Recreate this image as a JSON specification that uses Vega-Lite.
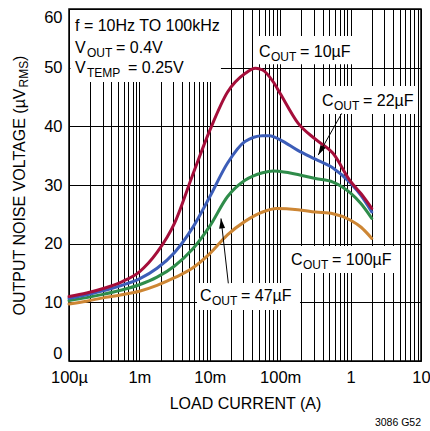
{
  "$schema": "https://vega.github.io/schema/vega-lite/v6.json",
  "width": 352,
  "height": 352,
  "autosize": {"type": "none"},
  "padding": {"left": 69, "top": 9, "right": 9, "bottom": 70},
  "background": "#ffffff",
  "config": {
    "view": {"stroke": "#000000", "strokeWidth": 1.5},
    "font": "Liberation Sans, Arial, sans-serif",
    "axis": {"labelColor": "#000000", "titleColor": "#000000", "gridColor": "#000000", "gridOpacity": 1, "gridWidth": 1, "labelFont": "Liberation Sans, Arial, sans-serif", "titleFont": "Liberation Sans, Arial, sans-serif"}
  },
  "title": {"text": "3086 G52", "orient": "bottom", "anchor": "end", "frame": "group", "fontSize": 10.5, "fontWeight": "normal", "font": "Liberation Sans, Arial, sans-serif", "color": "#000000", "offset": 6},
  "datasets": {
    "curves": [
      {"s": "100µF", "x": 0.0001, "y": 9.7}, {"s": "100µF", "x": 0.000178, "y": 10.2}, {"s": "100µF", "x": 0.000316, "y": 10.8}, {"s": "100µF", "x": 0.000562, "y": 11.3}, {"s": "100µF", "x": 0.001, "y": 11.9}, {"s": "100µF", "x": 0.00178, "y": 12.9}, {"s": "100µF", "x": 0.00316, "y": 14.2}, {"s": "100µF", "x": 0.00562, "y": 15.8}, {"s": "100µF", "x": 0.01, "y": 18.3}, {"s": "100µF", "x": 0.0178, "y": 21.5}, {"s": "100µF", "x": 0.0316, "y": 23.8}, {"s": "100µF", "x": 0.0562, "y": 25.4}, {"s": "100µF", "x": 0.0891, "y": 26.0}, {"s": "100µF", "x": 0.178, "y": 25.8}, {"s": "100µF", "x": 0.316, "y": 25.4}, {"s": "100µF", "x": 0.562, "y": 25.1}, {"s": "100µF", "x": 1.0, "y": 24.0}, {"s": "100µF", "x": 1.41, "y": 22.8}, {"s": "100µF", "x": 2.0, "y": 20.9},
      {"s": "47µF", "x": 0.0001, "y": 10.3}, {"s": "47µF", "x": 0.000178, "y": 10.8}, {"s": "47µF", "x": 0.000316, "y": 11.4}, {"s": "47µF", "x": 0.000562, "y": 12.1}, {"s": "47µF", "x": 0.001, "y": 13.0}, {"s": "47µF", "x": 0.00178, "y": 14.3}, {"s": "47µF", "x": 0.00316, "y": 16.2}, {"s": "47µF", "x": 0.00562, "y": 19.0}, {"s": "47µF", "x": 0.01, "y": 23.0}, {"s": "47µF", "x": 0.0178, "y": 28.0}, {"s": "47µF", "x": 0.0316, "y": 30.8}, {"s": "47µF", "x": 0.0562, "y": 32.1}, {"s": "47µF", "x": 0.0794, "y": 32.4}, {"s": "47µF", "x": 0.1, "y": 32.3}, {"s": "47µF", "x": 0.178, "y": 31.8}, {"s": "47µF", "x": 0.316, "y": 31.1}, {"s": "47µF", "x": 0.562, "y": 30.5}, {"s": "47µF", "x": 1.0, "y": 28.6}, {"s": "47µF", "x": 1.41, "y": 26.8}, {"s": "47µF", "x": 2.0, "y": 24.3},
      {"s": "22µF", "x": 0.0001, "y": 10.7}, {"s": "22µF", "x": 0.000178, "y": 11.3}, {"s": "22µF", "x": 0.000316, "y": 12.0}, {"s": "22µF", "x": 0.000562, "y": 12.9}, {"s": "22µF", "x": 0.001, "y": 14.0}, {"s": "22µF", "x": 0.00178, "y": 15.8}, {"s": "22µF", "x": 0.00316, "y": 18.5}, {"s": "22µF", "x": 0.00562, "y": 22.6}, {"s": "22µF", "x": 0.01, "y": 28.0}, {"s": "22µF", "x": 0.0178, "y": 33.7}, {"s": "22µF", "x": 0.0316, "y": 37.4}, {"s": "22µF", "x": 0.0562, "y": 38.4}, {"s": "22µF", "x": 0.0708, "y": 38.4}, {"s": "22µF", "x": 0.1, "y": 37.7}, {"s": "22µF", "x": 0.178, "y": 35.9}, {"s": "22µF", "x": 0.316, "y": 34.4}, {"s": "22µF", "x": 0.562, "y": 32.9}, {"s": "22µF", "x": 1.0, "y": 30.3}, {"s": "22µF", "x": 1.41, "y": 28.2}, {"s": "22µF", "x": 2.0, "y": 25.4},
      {"s": "10µF", "x": 0.0001, "y": 11.0}, {"s": "10µF", "x": 0.000178, "y": 11.6}, {"s": "10µF", "x": 0.000316, "y": 12.4}, {"s": "10µF", "x": 0.000562, "y": 13.5}, {"s": "10µF", "x": 0.001, "y": 15.2}, {"s": "10µF", "x": 0.00178, "y": 18.5}, {"s": "10µF", "x": 0.00316, "y": 23.5}, {"s": "10µF", "x": 0.00562, "y": 31.5}, {"s": "10µF", "x": 0.01, "y": 39.3}, {"s": "10µF", "x": 0.0178, "y": 45.8}, {"s": "10µF", "x": 0.0316, "y": 49.0}, {"s": "10µF", "x": 0.0447, "y": 49.9}, {"s": "10µF", "x": 0.0562, "y": 49.6}, {"s": "10µF", "x": 0.0794, "y": 47.6}, {"s": "10µF", "x": 0.1, "y": 45.6}, {"s": "10µF", "x": 0.178, "y": 40.6}, {"s": "10µF", "x": 0.316, "y": 37.8}, {"s": "10µF", "x": 0.562, "y": 35.4}, {"s": "10µF", "x": 1.0, "y": 30.6}, {"s": "10µF", "x": 1.41, "y": 28.5}, {"s": "10µF", "x": 2.0, "y": 26.0}
    ],
    "boxes": [
      {"x": 0.000105, "x2": 0.0144, "y": 47.55, "y2": 59.85},
      {"x": 0.0439, "x2": 1.193, "y": 50.6, "y2": 55.4},
      {"x": 0.333, "x2": 9.06, "y": 42.1, "y2": 46.87},
      {"x": 0.125, "x2": 4.56, "y": 15.0, "y2": 19.6},
      {"x": 0.00658, "x2": 0.191, "y": 8.7, "y2": 13.3}
    ],
    "arrows": [
      {"id": "22", "x": 0.747, "y": 42.2, "x2": 0.347, "y2": 35.1},
      {"id": "47", "x": 0.01833, "y": 13.24, "x2": 0.01442, "y2": 24.3}
    ],
    "maintext": [
      {"t": "f = 10Hz TO 100kHz", "x": 0.0001217, "y": 56.3},
      {"t": "V", "x": 0.0001217, "y": 52.45},
      {"t": "= 0.4V", "x": 0.0004652, "y": 52.45},
      {"t": "V", "x": 0.0001217, "y": 49.04},
      {"t": "= 0.25V", "x": 0.0006887, "y": 49.04},
      {"t": "C", "x": 0.05, "y": 51.87},
      {"t": "= 10µF", "x": 0.191, "y": 51.87},
      {"t": "C", "x": 0.393, "y": 43.46},
      {"t": "= 22µF", "x": 1.5, "y": 43.46},
      {"t": "C", "x": 0.1423, "y": 16.36},
      {"t": "= 100µF", "x": 0.545, "y": 16.36},
      {"t": "C", "x": 0.00726, "y": 10.23},
      {"t": "= 47µF", "x": 0.0277, "y": 10.23}
    ],
    "subtext": [
      {"t": "OUT", "x": 0.0001802, "y": 51.76},
      {"t": "TEMP", "x": 0.0001802, "y": 48.36},
      {"t": "OUT", "x": 0.074, "y": 51.18},
      {"t": "OUT", "x": 0.581, "y": 42.78},
      {"t": "OUT", "x": 0.211, "y": 15.68},
      {"t": "OUT", "x": 0.01074, "y": 9.545}
    ]
  },
  "layer": [
    {
      "data": {"name": "boxes"},
      "mark": {"type": "rect", "fill": "#ffffff", "strokeWidth": 0},
      "encoding": {
        "x": {"field": "x", "type": "quantitative", "scale": {"type": "log", "domain": [0.0001, 10], "nice": false},
          "axis": {"orient": "bottom", "values": [0.0001, 0.0002, 0.0003, 0.0004, 0.0005, 0.0006, 0.0007, 0.0008, 0.0009, 0.001, 0.002, 0.003, 0.004, 0.005, 0.006, 0.007, 0.008, 0.009, 0.01, 0.02, 0.03, 0.04, 0.05, 0.06, 0.07, 0.08, 0.09, 0.1, 0.2, 0.3, 0.4, 0.5, 0.6, 0.7, 0.8, 0.9, 1, 2, 3, 4, 5, 6, 7, 8, 9, 10],
            "labelExpr": "datum.value == 0.0001 ? '100µ' : datum.value == 0.001 ? '1m' : datum.value == 0.01 ? '10m' : datum.value == 0.1 ? '100m' : datum.value == 1 ? '1' : datum.value == 10 ? '10' : ''",
            "grid": true, "ticks": false, "domain": false, "labelFontSize": 16.5, "labelPadding": 8, "labelOverlap": false, "labelFlush": false,
            "title": "LOAD CURRENT (A)", "titleFontSize": 16, "titleFontWeight": "normal", "titlePadding": 10}},
        "x2": {"field": "x2"},
        "y": {"field": "y", "type": "quantitative", "scale": {"domain": [0, 60], "nice": false},
          "axis": {"orient": "left", "values": [0, 10, 20, 30, 40, 50, 60], "grid": true, "ticks": false, "domain": false, "labelFontSize": 16.5, "labelPadding": 7, "labelFlush": true,
            "title": "OUTPUT NOISE VOLTAGE (µV", "titleFontSize": 16, "titleFontWeight": "normal", "titleAngle": 270, "titleAlign": "left", "titleBaseline": "alphabetic", "titleX": -45, "titleY": 306}},
        "y2": {"field": "y2"}
      }
    },
    {
      "data": {"name": "curves"},
      "mark": {"type": "line", "strokeWidth": 3, "interpolate": "monotone", "strokeCap": "round"},
      "encoding": {
        "x": {"field": "x", "type": "quantitative", "scale": {"type": "log", "domain": [0.0001, 10], "nice": false},
          "axis": {"orient": "top", "grid": false, "labels": false, "ticks": false, "domain": false, "title": ")", "titleFontSize": 16, "titleFontWeight": "normal", "titleAngle": 270, "titleAlign": "left", "titleBaseline": "alphabetic", "titleX": -45, "titleY": 51.6}},
        "y": {"field": "y", "type": "quantitative", "scale": {"domain": [0, 60], "nice": false},
          "axis": {"orient": "left", "grid": false, "labels": false, "ticks": false, "domain": false, "title": "RMS", "titleFontSize": 12, "titleFontWeight": "normal", "titleAngle": 270, "titleAlign": "left", "titleBaseline": "alphabetic", "titleX": -42, "titleY": 78}},
        "color": {"field": "s", "type": "nominal", "scale": {"domain": ["10µF", "22µF", "47µF", "100µF"], "range": ["#A50E3A", "#3C5DB8", "#2F8C4A", "#CD8634"]}, "legend": null}
      }
    },
    {
      "data": {"name": "arrows"},
      "mark": {"type": "rule", "color": "#000000", "strokeWidth": 1},
      "encoding": {
        "x": {"field": "x", "type": "quantitative", "scale": {"type": "log", "domain": [0.0001, 10], "nice": false}, "axis": null},
        "x2": {"field": "x2"},
        "y": {"field": "y", "type": "quantitative", "scale": {"domain": [0, 60], "nice": false}, "axis": null},
        "y2": {"field": "y2"}
      }
    },
    {
      "data": {"name": "arrows"},
      "transform": [{"filter": "datum.id == '22'"}],
      "mark": {"type": "point", "shape": "M0,0L-0.3,1L0.3,1Z", "angle": 209, "size": 400, "filled": true, "color": "#000000", "opacity": 1},
      "encoding": {
        "x": {"field": "x2", "type": "quantitative", "scale": {"type": "log", "domain": [0.0001, 10], "nice": false}, "axis": null},
        "y": {"field": "y2", "type": "quantitative", "scale": {"domain": [0, 60], "nice": false}, "axis": null}
      }
    },
    {
      "data": {"name": "arrows"},
      "transform": [{"filter": "datum.id == '47'"}],
      "mark": {"type": "point", "shape": "M0,0L-0.3,1L0.3,1Z", "angle": 353.6, "size": 400, "filled": true, "color": "#000000", "opacity": 1},
      "encoding": {
        "x": {"field": "x2", "type": "quantitative", "scale": {"type": "log", "domain": [0.0001, 10], "nice": false}, "axis": null},
        "y": {"field": "y2", "type": "quantitative", "scale": {"domain": [0, 60], "nice": false}, "axis": null}
      }
    },
    {
      "data": {"name": "maintext"},
      "mark": {"type": "text", "align": "left", "baseline": "alphabetic", "fontSize": 16, "color": "#000000"},
      "encoding": {
        "x": {"field": "x", "type": "quantitative", "scale": {"type": "log", "domain": [0.0001, 10], "nice": false}, "axis": null},
        "y": {"field": "y", "type": "quantitative", "scale": {"domain": [0, 60], "nice": false}, "axis": null},
        "text": {"field": "t"}
      }
    },
    {
      "data": {"name": "subtext"},
      "mark": {"type": "text", "align": "left", "baseline": "alphabetic", "fontSize": 12, "color": "#000000"},
      "encoding": {
        "x": {"field": "x", "type": "quantitative", "scale": {"type": "log", "domain": [0.0001, 10], "nice": false}, "axis": null},
        "y": {"field": "y", "type": "quantitative", "scale": {"domain": [0, 60], "nice": false}, "axis": null},
        "text": {"field": "t"}
      }
    }
  ],
  "resolve": {"axis": {"x": "independent", "y": "independent"}}
}
